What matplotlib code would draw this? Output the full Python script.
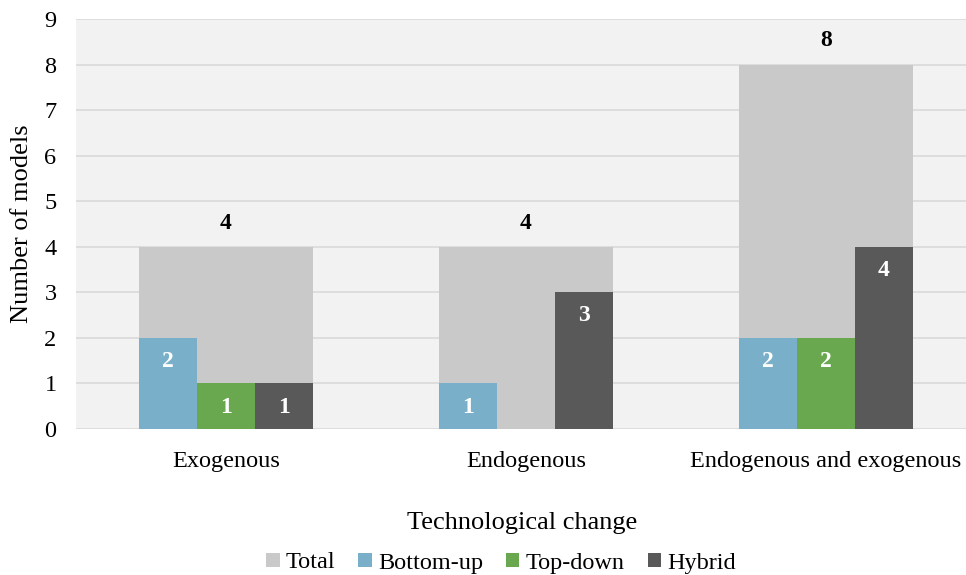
import numpy as np
import matplotlib.pyplot as plt

plt.rcParams['font.family'] = ['Liberation Serif', 'DejaVu Serif']

categories = ['Exogenous', 'Endogenous', 'Endogenous and exogenous']
total = [4, 4, 8]
bottom_up = [2, 1, 2]
top_down = [1, 0, 2]
hybrid = [1, 3, 4]

x = np.arange(len(categories))
w_total = 0.58
w_sub = w_total / 3

fig = plt.figure(figsize=(9.66, 5.75), dpi=100)
ax = fig.add_axes([76 / 966, 1 - 429 / 575, 890 / 966, 410 / 575])
ax.set_facecolor('#f2f2f2')

ax.bar(x, total, width=w_total, color='#c9c9c9', label='Total', zorder=2)
b1 = ax.bar(x - w_sub, bottom_up, width=w_sub, color='#7aafca', label='Bottom-up', zorder=3)
b2 = ax.bar(x, top_down, width=w_sub, color='#6aa84f', label='Top-down', zorder=3)
b3 = ax.bar(x + w_sub, hybrid, width=w_sub, color='#595959', label='Hybrid', zorder=3)

# totals above the wide bars
for xi, v in zip(x, total):
    ax.annotate(str(v), (xi, v), xytext=(0, 17), textcoords='offset points',
                ha='center', va='center', fontsize=17, fontweight='bold', color='black')

# values inside the sub bars
for bars, vals in [(b1, bottom_up), (b2, top_down), (b3, hybrid)]:
    for bar, v in zip(bars, vals):
        if v == 0:
            continue
        cx = bar.get_x() + bar.get_width() / 2
        ax.annotate(str(v), (cx, v), xytext=(0, -17), textcoords='offset points',
                    ha='center', va='center', fontsize=17, fontweight='bold', color='white',
                    zorder=4)

ax.set_xlim(-0.5, 2.467)
ax.set_ylim(0, 9)
ax.set_yticks(range(0, 10))
ax.set_xticks(x)
ax.set_xticklabels(categories)
ax.tick_params(axis='both', length=0, labelsize=17.5)
ax.tick_params(axis='x', pad=16)
ax.tick_params(axis='y', pad=14)
ax.grid(axis='y', color='#d9d9d9', linewidth=1.2, zorder=1)
ax.set_axisbelow(True)
for s in ax.spines.values():
    s.set_visible(False)

ax.set_ylabel('Number of models', fontsize=19, labelpad=8)
fig.text(522 / 966, 1 - 523 / 575, 'Technological change', ha='center', va='center', fontsize=19)

fig.legend(loc='center', bbox_to_anchor=(501 / 966, 1 - 563 / 575), ncol=4, frameon=False,
           fontsize=17.5, handlelength=0.55, handleheight=0.55, handletextpad=0.25,
           columnspacing=0.95, borderpad=0)

fig.savefig('out.png', dpi=100)
